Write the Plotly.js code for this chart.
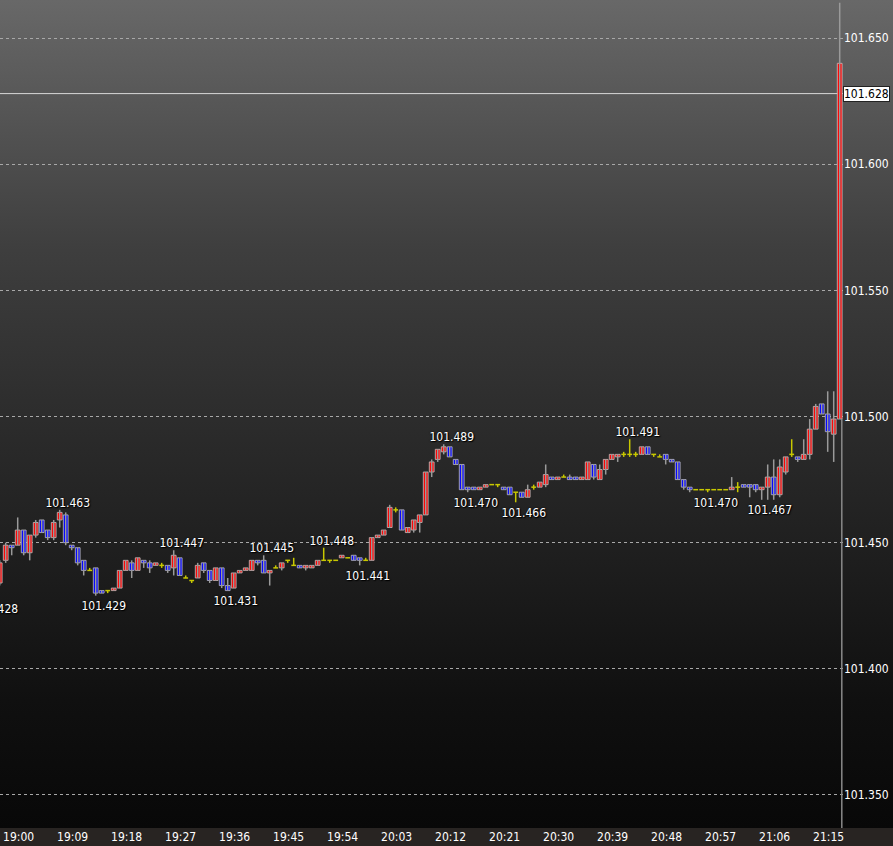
<!DOCTYPE html>
<html><head><meta charset="utf-8">
<script src="https://cdn.plot.ly/plotly-3.0.1.min.js"></script>
<style>
html,body{margin:0;padding:0;background:#000;}
#chart{width:893px;height:846px;background:linear-gradient(to bottom,#686868 0px,#3e3e3e 250px,#2c2c2c 420px,#101010 700px,#080808 828px,#282422 828px,#282422 846px);}
</style></head><body><div id="chart"></div>
<script>
// ---- data (1-minute candles starting 19:00) ----
const startTime = '19:00';
const openP = [101.434,101.443,101.449,101.449,101.455,101.446,101.453,101.459,101.455,101.452,
101.459,101.461,101.449,101.448,101.443,101.439,101.440,101.431,101.431,101.431,
101.432,101.439,101.442,101.439,101.443,101.442,101.441,101.441,101.441,101.440,
101.444,101.436,101.435,101.436,101.442,101.439,101.435,101.440,101.433,101.432,
101.438,101.439,101.439,101.443,101.443,101.438,101.440,101.440,101.443,101.441,
101.441,101.440,101.440,101.441,101.443,101.443,101.443,101.444,101.444,101.445,
101.444,101.443,101.443,101.452,101.453,101.456,101.463,101.463,101.454,101.455,
101.458,101.461,101.478,101.483,101.486,101.488,101.483,101.481,101.472,101.472,
101.471,101.472,101.473,101.473,101.472,101.472,101.470,101.470,101.468,101.472,
101.472,101.473,101.476,101.475,101.476,101.476,101.476,101.475,101.475,101.481,
101.475,101.479,101.483,101.484,101.485,101.485,101.485,101.485,101.488,101.485,
101.484,101.485,101.483,101.482,101.475,101.472,101.471,101.471,101.471,101.471,
101.471,101.471,101.471,101.472,101.473,101.473,101.473,101.471,101.472,101.476,
101.469,101.478,101.485,101.484,101.483,101.485,101.495,101.505,101.501,101.493,
101.499];
const highP = [101.443,101.450,101.449,101.460,101.455,101.453,101.459,101.459,101.455,101.459,
101.463,101.462,101.449,101.448,101.443,101.440,101.440,101.431,101.431,101.432,
101.439,101.443,101.443,101.444,101.443,101.443,101.442,101.442,101.441,101.447,
101.444,101.437,101.435,101.442,101.442,101.439,101.440,101.440,101.436,101.438,
101.439,101.440,101.443,101.443,101.445,101.439,101.441,101.442,101.443,101.444,
101.441,101.441,101.441,101.443,101.448,101.443,101.443,101.445,101.444,101.445,
101.444,101.444,101.452,101.453,101.455,101.465,101.464,101.463,101.456,101.459,
101.461,101.478,101.483,101.487,101.489,101.488,101.483,101.481,101.472,101.472,
101.472,101.473,101.473,101.473,101.472,101.472,101.470,101.470,101.473,101.473,
101.474,101.481,101.476,101.476,101.477,101.477,101.476,101.476,101.482,101.481,
101.481,101.483,101.485,101.485,101.486,101.491,101.486,101.488,101.488,101.485,
101.485,101.485,101.483,101.482,101.475,101.472,101.471,101.471,101.471,101.471,
101.471,101.471,101.476,101.474,101.473,101.473,101.473,101.472,101.481,101.483,
101.483,101.484,101.491,101.484,101.491,101.499,101.505,101.505,101.510,101.510,
101.664];
const lowP = [101.433,101.442,101.445,101.449,101.445,101.443,101.452,101.454,101.451,101.451,
101.456,101.449,101.447,101.441,101.437,101.439,101.429,101.430,101.430,101.431,
101.432,101.439,101.436,101.439,101.440,101.438,101.441,101.440,101.438,101.437,
101.437,101.436,101.434,101.436,101.438,101.434,101.435,101.432,101.431,101.432,
101.438,101.439,101.439,101.441,101.438,101.433,101.440,101.439,101.442,101.441,
101.440,101.439,101.440,101.441,101.443,101.442,101.443,101.444,101.444,101.443,
101.441,101.443,101.443,101.452,101.453,101.456,101.462,101.455,101.454,101.454,
101.454,101.461,101.476,101.482,101.485,101.484,101.481,101.471,101.470,101.471,
101.471,101.472,101.473,101.472,101.471,101.469,101.466,101.468,101.468,101.471,
101.472,101.472,101.475,101.475,101.476,101.475,101.475,101.475,101.475,101.475,
101.475,101.477,101.483,101.482,101.484,101.484,101.484,101.485,101.485,101.484,
101.484,101.481,101.482,101.475,101.471,101.470,101.471,101.471,101.470,101.471,
101.471,101.471,101.471,101.470,101.472,101.468,101.470,101.467,101.467,101.467,
101.468,101.477,101.484,101.482,101.483,101.483,101.495,101.501,101.486,101.482,
101.499];
const closeP = [101.442,101.449,101.448,101.455,101.446,101.453,101.458,101.454,101.452,101.458,
101.462,101.450,101.448,101.442,101.439,101.439,101.430,101.430,101.431,101.432,
101.439,101.443,101.439,101.444,101.442,101.440,101.442,101.441,101.439,101.445,
101.437,101.436,101.435,101.441,101.439,101.435,101.440,101.433,101.431,101.438,
101.439,101.440,101.443,101.442,101.438,101.439,101.440,101.442,101.443,101.441,
101.440,101.441,101.441,101.443,101.443,101.443,101.443,101.445,101.444,101.443,
101.443,101.443,101.452,101.453,101.455,101.464,101.463,101.455,101.456,101.459,
101.461,101.478,101.482,101.487,101.488,101.484,101.481,101.471,101.471,101.471,
101.472,101.473,101.473,101.473,101.471,101.469,101.470,101.468,101.471,101.472,
101.474,101.477,101.475,101.476,101.476,101.475,101.475,101.476,101.482,101.476,
101.479,101.483,101.485,101.485,101.485,101.485,101.485,101.488,101.485,101.485,
101.484,101.483,101.482,101.475,101.472,101.471,101.471,101.471,101.471,101.471,
101.471,101.471,101.472,101.472,101.472,101.472,101.471,101.472,101.476,101.469,
101.480,101.484,101.485,101.483,101.485,101.495,101.504,101.501,101.494,101.499,
101.640];
const currentPrice = 101.628;
const tickLabels = ['19:00','19:09','19:18','19:27','19:36','19:45','19:54','20:03','20:12','20:21','20:30','20:39','20:48','20:57','21:06','21:15'];
const highLabelTimes = ['19:10','19:29','19:44','19:54','20:14','20:45'];
const highLabelValues = [101.463,101.447,101.445,101.448,101.489,101.491];
const lowLabelTimes = ['18:58','19:16','19:38','20:00','20:18','20:26','20:58','21:07'];
const lowLabelValues = [101.428,101.429,101.431,101.441,101.470,101.466,101.470,101.467];

// ---- helpers ----
function mins(t){const p=t.split(':');return (+p[0])*60+(+p[1]);}
const t0 = mins(startTime);
function idx(t){return mins(t)-t0;}
const n = openP.length;
const times = [];
for(let i=0;i<n;i++){const m=t0+i;times.push(String(Math.floor(m/60)).padStart(2,'0')+':'+String(m%60).padStart(2,'0'));}
const xs = times.map(idx);

const RED='#ff0000', BLUE='#0000ff', YEL='#c8c800', WICK='#9a9a9a', EDGE='#c4c4c4';
const BODY_W=0.8, DOJI_HALF=0.4, LABEL_DX=1.35, TICK_DX=3.15;

const wx=[],wy=[],dwx=[],dwy=[],dlx=[],dly=[];
const bx=[],bbase=[],bh=[],bcol=[];
for(let i=0;i<n;i++){
  const o=openP[i],c=closeP[i],h=highP[i],l=lowP[i],x=xs[i];
  if(Math.abs(c-o)<1e-9){
    dwx.push(x,x,null); dwy.push(l,h,null);
    dlx.push(x-DOJI_HALF,x+DOJI_HALF,null); dly.push(o,o,null);
  } else {
    wx.push(x,x,null); wy.push(l,h,null);
    bx.push(x); bbase.push(Math.min(o,c)); bh.push(Math.abs(c-o)); bcol.push(c>o?RED:BLUE);
  }
}
const yRange=[101.3369,101.6651];
const FAM='"DejaVu Sans Condensed","DejaVu Sans",sans-serif';
const lblFont={family:FAM,size:12,color:'#ffffff',shadow:'0px 0px 2px #000, 1px 1px 1px #000'};
const traces=[
  {type:'scatter',mode:'lines',x:wx,y:wy,line:{color:WICK,width:1.5},hoverinfo:'skip',connectgaps:false},
  {type:'scatter',mode:'lines',x:dwx,y:dwy,line:{color:YEL,width:1.5},hoverinfo:'skip',connectgaps:false},
  {type:'bar',x:bx,base:bbase,y:bh,width:BODY_W,marker:{color:bcol,opacity:1,line:{color:EDGE,width:0.8}},hoverinfo:'skip'},
  {type:'scatter',mode:'lines',x:dlx,y:dly,line:{color:YEL,width:1.5},hoverinfo:'skip',connectgaps:false},
  {type:'scatter',mode:'text',x:highLabelTimes.map(t=>idx(t)+LABEL_DX),y:highLabelValues,text:highLabelValues.map(v=>v.toFixed(3)),textposition:'top center',textfont:lblFont,hoverinfo:'skip'},
  {type:'scatter',mode:'markers+text',x:lowLabelTimes.map(t=>idx(t)+LABEL_DX),y:lowLabelValues,text:lowLabelValues.map(v=>v.toFixed(3)),textposition:'bottom center',textfont:lblFont,marker:{size:7,opacity:0},hoverinfo:'skip'}
];
const axFont={family:FAM,size:12,color:'#ffffff'};
const last=n-1;
const layout={
  width:893,height:846,
  margin:{l:0,r:50,t:0,b:18,pad:0},
  paper_bgcolor:'rgba(0,0,0,0)',plot_bgcolor:'rgba(0,0,0,0)',
  showlegend:false,barmode:'overlay',hovermode:false,
  xaxis:{range:[0.05,140.55],showgrid:false,zeroline:false,showline:false,ticks:'',
    tickmode:'array',tickvals:tickLabels.map(t=>idx(t)+TICK_DX),ticktext:tickLabels,tickfont:axFont,fixedrange:true},
  yaxis:{side:'right',range:yRange,tick0:101.35,dtick:0.05,tickformat:'.3f',showgrid:true,
    gridcolor:'#a8a8a8',griddash:'3px,3px',gridwidth:1,zeroline:false,showline:false,ticks:'',tickfont:axFont,fixedrange:true},
  shapes:[
    {type:'line',xref:'paper',x0:0,x1:1,yref:'y',y0:currentPrice,y1:currentPrice,line:{color:'#d8d8d8',width:1},layer:'below'},
    {type:'line',xref:'x',x0:xs[last]+0.35,x1:xs[last]+0.35,yref:'y',y0:yRange[0],y1:openP[last],line:{color:'#8a8a8a',width:1.5}}
  ],
  annotations:[
    {xref:'paper',x:1,xanchor:'left',xshift:0,yref:'y',y:currentPrice,yanchor:'middle',text:currentPrice.toFixed(3),showarrow:false,
     bgcolor:'#ffffff',bordercolor:'#222',borderwidth:1,borderpad:0,font:{family:FAM,size:12,color:'#000'}}
  ]
};
Plotly.newPlot('chart',traces,layout,{staticPlot:true,displayModeBar:false});
</script></body></html>
